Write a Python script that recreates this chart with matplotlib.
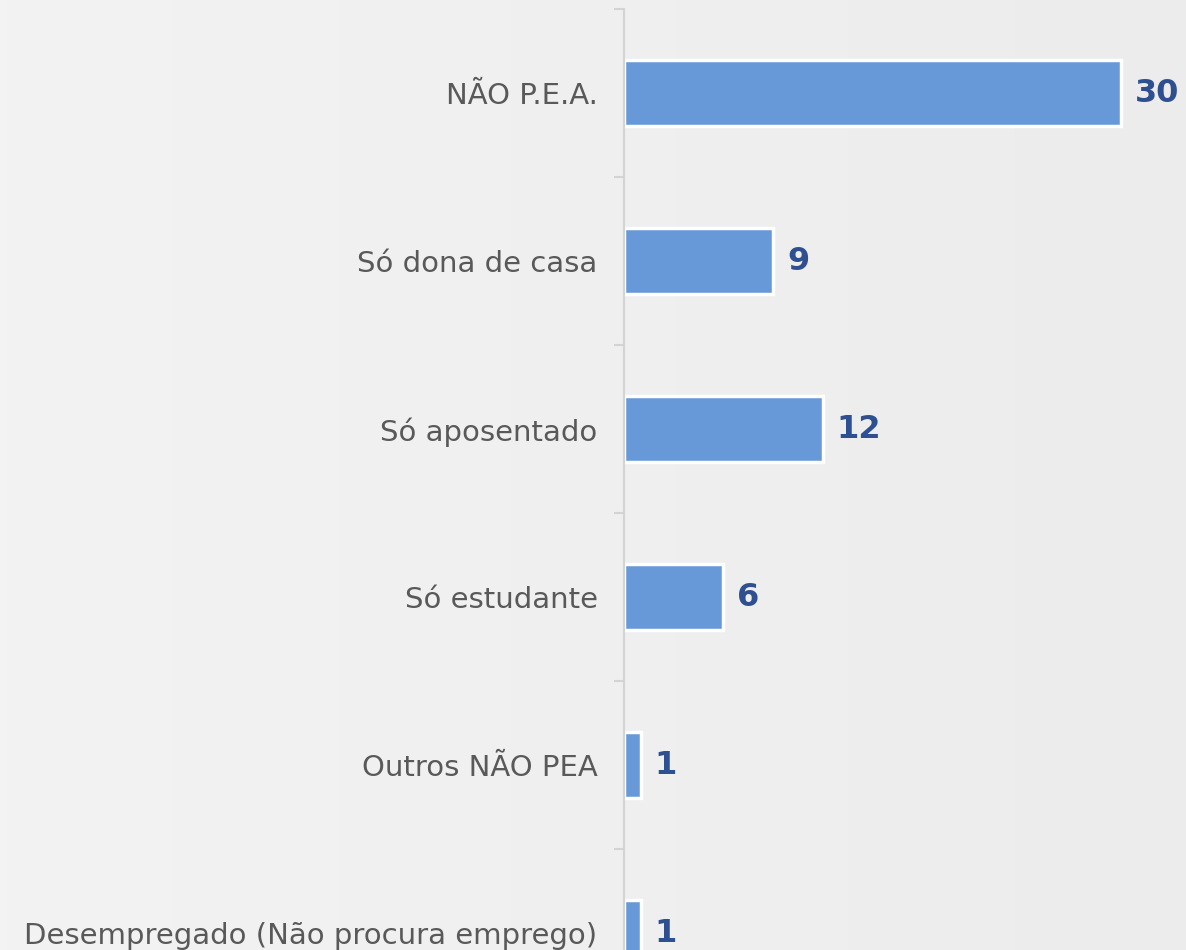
import matplotlib
matplotlib.use("Agg")
import matplotlib.pyplot as plt
import numpy as np
from matplotlib.colors import LinearSegmentedColormap

categories = ["NÃO P.E.A.", "Só dona de casa", "Só aposentado", "Só estudante",
              "Outros NÃO PEA", "Desempregado (Não procura emprego)"]
values = [30, 9, 12, 6, 1, 1]

W, H = 1186, 950
fig = plt.figure(figsize=(W / 100, H / 100), dpi=100)
fig.patch.set_facecolor("#f1f1f1")

# subtle background gradient
bg = fig.add_axes([0, 0, 1, 1], zorder=-10)
gx = np.linspace(0, 1, 200)
grad = np.tile(gx, (50, 1))
cmap = LinearSegmentedColormap.from_list("bg", ["#f3f3f3", "#ececec"])
bg.imshow(grad, aspect="auto", cmap=cmap, extent=[0, 1, 0, 1])
bg.axis("off")

left = 624 / W
top_px, bot_px = 9, 1017
ax = fig.add_axes([left, 1 - bot_px / H, (W - 624) / W, (bot_px - top_px) / H])
ax.patch.set_alpha(0)

y = np.arange(len(categories))
ax.barh(y, values, height=0.39, color="#6798d8", edgecolor="white", linewidth=2.5)
ax.set_xlim(0, 33.9)
ax.set_ylim(len(categories) - 0.5, -0.5)

for yi, v in zip(y, values):
    ax.annotate(str(v), (v, yi), xytext=(10, 0), textcoords="offset points",
                va="center", ha="left", fontsize=23, fontweight="bold",
                color="#2f5090", family="DejaVu Sans")

ax.set_yticks(y)
ax.set_yticklabels(categories, fontsize=21, color="#595959", family="DejaVu Sans")
ax.tick_params(axis="y", which="major", length=0, pad=19)
ax.set_yticks(np.arange(-0.5, len(categories) + 0.5, 1), minor=True)
ax.tick_params(axis="y", which="minor", length=7, color="#d3d3d3", width=1.5)
ax.set_xticks([])
for s in ["top", "right", "bottom"]:
    ax.spines[s].set_visible(False)
ax.spines["left"].set_color("#d3d3d3")
ax.spines["left"].set_linewidth(1.5)

fig.savefig("out.png", dpi=100, facecolor=fig.get_facecolor())
